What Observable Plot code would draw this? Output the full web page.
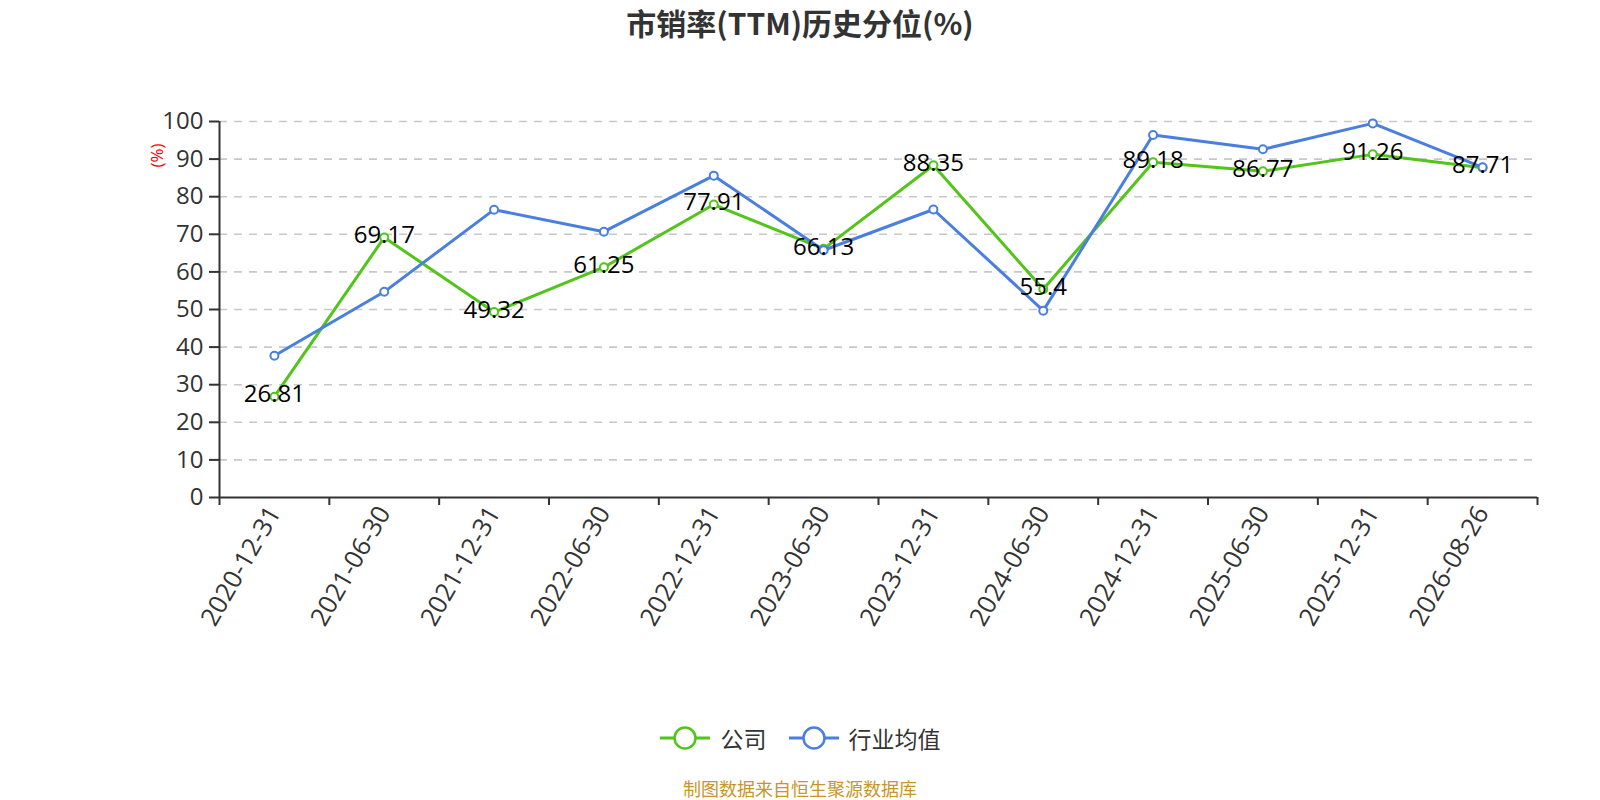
<!DOCTYPE html>
<html>
<head>
<meta charset="utf-8">
<script src="https://cdn.jsdelivr.net/npm/d3@7"></script>
<script src="https://cdn.jsdelivr.net/npm/@observablehq/plot@0.6"></script>
<style>
  html, body { margin:0; padding:0; background:#fff; }
  #wrap { position:relative; width:1600px; height:800px; overflow:hidden; font-family:"Open Sans","Noto Sans CJK SC",sans-serif; }
  #title { position:absolute; top:0; left:0; width:1600px; text-align:center; line-height:45px; font-size:30px; font-weight:bold; color:#333; font-family:"Noto Sans CJK SC",sans-serif; }
  #chart { position:absolute; top:0; left:0; }
  #legend { position:absolute; top:724px; left:0; width:1600px; height:28px; display:flex; justify-content:center; align-items:center; font-size:23px; color:#333; font-family:"Noto Sans CJK SC",sans-serif; }
  #legend .item { display:flex; align-items:center; }
  #caption { position:absolute; top:777px; left:0; width:1600px; text-align:center; line-height:22px; font-size:18px; color:#c8952a; font-family:"Noto Sans CJK SC",sans-serif; }
</style>
</head>
<body>
<div id="wrap">
  <div id="title">市销率(TTM)历史分位(%)</div>
  <div id="chart"></div>
  <div id="legend"></div>
  <div id="caption">制图数据来自恒生聚源数据库</div>
</div>
<script>
const dates = ["2020-12-31","2021-06-30","2021-12-31","2022-06-30","2022-12-31","2023-06-30","2023-12-31","2024-06-30","2024-12-31","2025-06-30","2025-12-31","2026-08-26"];
const company = [26.81, 69.17, 49.32, 61.25, 77.91, 66.13, 88.35, 55.4, 89.18, 86.77, 91.26, 87.71];
const industry = [37.7, 54.7, 76.55, 70.7, 85.6, 65.75, 76.6, 49.7, 96.4, 92.6, 99.5, 87.8];
const yTicks = [0, 10, 20, 30, 40, 50, 60, 70, 80, 90, 100];
const seriesNames = ["公司", "行业均值"];
const seriesColors = ["#52c41a", "#4a7fe0"];

const rows = dates.map((d, i) => ({pos: i + 0.5, date: d, company: company[i], industry: industry[i]}));
const boundaries = d3.range(dates.length + 1);
const centers = dates.map((d, i) => i + 0.5);

const chart = Plot.plot({
  width: 1600,
  height: 700,
  marginLeft: 219,
  marginRight: 63,
  marginTop: 121,
  marginBottom: 203,
  x: {domain: [0, dates.length], axis: null},
  y: {domain: [0, 100], axis: null},
  style: {fontFamily: "'Open Sans','Noto Sans CJK SC',sans-serif", background: "transparent", overflow: "visible"},
  marks: [
    Plot.gridY(yTicks.filter(t => t > 0), {stroke: "#c8c8c8", strokeOpacity: 1, strokeWidth: 1.6, strokeDasharray: "8,7"}),
    Plot.axisY({ticks: yTicks, tickSize: 10, tickPadding: 6, fontSize: 24, stroke: "#333", fill: "#333", strokeWidth: 2, label: null}),
    Plot.axisX({ticks: boundaries, tickFormat: () => "", tickSize: 8, stroke: "#333", strokeWidth: 2, label: null}),
    Plot.axisX({ticks: centers, tickFormat: d => dates[Math.floor(d)], tickSize: 0, tickPadding: 11, tickRotate: -60, fontSize: 25.5, fill: "#333", label: null}),
    Plot.ruleY([0], {stroke: "#333", strokeWidth: 2}),
    Plot.ruleX([0], {stroke: "#333", strokeWidth: 2}),
    Plot.line(rows, {x: "pos", y: "company", stroke: seriesColors[0], strokeWidth: 3}),
    Plot.dot(rows, {x: "pos", y: "company", r: 4, fill: "white", stroke: seriesColors[0], strokeWidth: 2}),
    Plot.line(rows, {x: "pos", y: "industry", stroke: seriesColors[1], strokeWidth: 3}),
    Plot.dot(rows, {x: "pos", y: "industry", r: 4, fill: "white", stroke: seriesColors[1], strokeWidth: 2}),
    Plot.text(rows, {x: "pos", y: "company", text: d => String(d.company), fontSize: 24, fill: "#000", dy: -2}),
    Plot.text(["(%)"], {frameAnchor: "top-left", text: d => d, rotate: -90, textAnchor: "middle", lineAnchor: "middle", fill: "red", fontSize: 17, dx: -62, dy: 34})
  ]
});
document.getElementById("chart").appendChild(chart);

const legend = document.getElementById("legend");
seriesNames.forEach((name, i) => {
  const item = document.createElement("div");
  item.className = "item";
  if (i > 0) item.style.marginLeft = "22px";
  item.innerHTML = `<svg width="50" height="28" style="display:block"><line x1="0" x2="50" y1="14" y2="14" stroke="${seriesColors[i]}" stroke-width="3"/><circle cx="25" cy="14" r="10.5" fill="white" stroke="${seriesColors[i]}" stroke-width="2.5"/></svg><span style="margin-left:${i === 0 ? 11 : 10}px">${name}</span>`;
  legend.appendChild(item);
});
</script>
</body>
</html>
